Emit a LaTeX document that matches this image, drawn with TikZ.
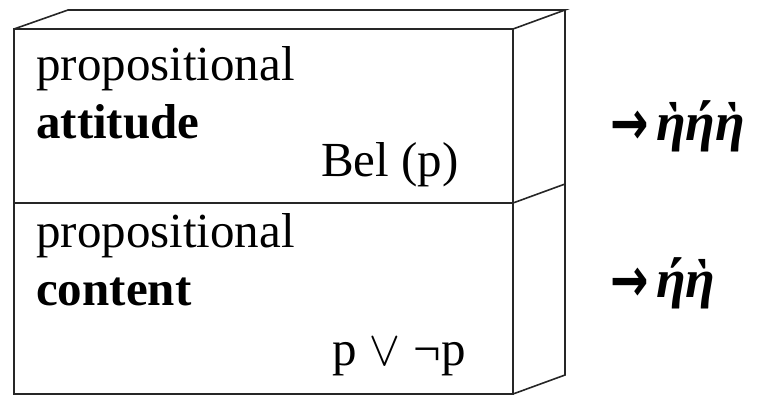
\documentclass[tikz,border=0pt]{standalone}
\usepackage{fontspec}
\setmainfont{Liberation Serif}
\newfontfamily\symf{Latin Modern Math}
\newfontfamily\arrf{DejaVu Sans}
\begin{document}
\begin{tikzpicture}[x=1bp,y=-1bp,
  edge/.style={line width=1.6bp,draw=black!85,line join=miter},
  txt/.style={anchor=base west,inner sep=0pt,font=\fontsize{49bp}{58bp}\selectfont},
  btxt/.style={txt,font=\fontsize{49bp}{58bp}\selectfont\bfseries},
  atxt/.style={anchor=west,inner sep=0pt,xscale=0.85,yscale=1.15,font=\fontsize{54bp}{58bp}\selectfont\arrf\bfseries},
  gtxt/.style={anchor=base west,inner sep=0pt,font=\fontsize{54bp}{60bp}\selectfont\bfseries\itshape}]
\useasboundingbox (0,0) rectangle (769,395);
% box
\draw[edge] (14,29) rectangle (513,394);
\draw[edge] (14,29) -- (68,10) -- (565,10) -- (513,29);
\draw[edge] (565,10) -- (565,375) -- (513,394);
\draw[edge] (14,203) -- (513,203) -- (565,184);
% texts upper
\node[txt] (p1) at (36,80) {propositional};
\node[btxt] (a1) at (36,138) {attitude};
\node[txt] (b1) at (321,176) {Bel (p)};
% texts lower
\node[txt] (p2) at (36,247) {propositional};
\node[btxt] (c2) at (36,305) {content};
\node[txt] (f2) at (332,365) {p {\symf ∨} ¬p};
% right
\node[atxt] (ar1) at (610,128) {→};
\node[gtxt] (r1) at (656,140) {ὴήὴ};
\node[atxt] (ar2) at (610,285) {→};
\node[gtxt] (r2) at (656,297) {ήὴ};
\end{tikzpicture}
\end{document}
